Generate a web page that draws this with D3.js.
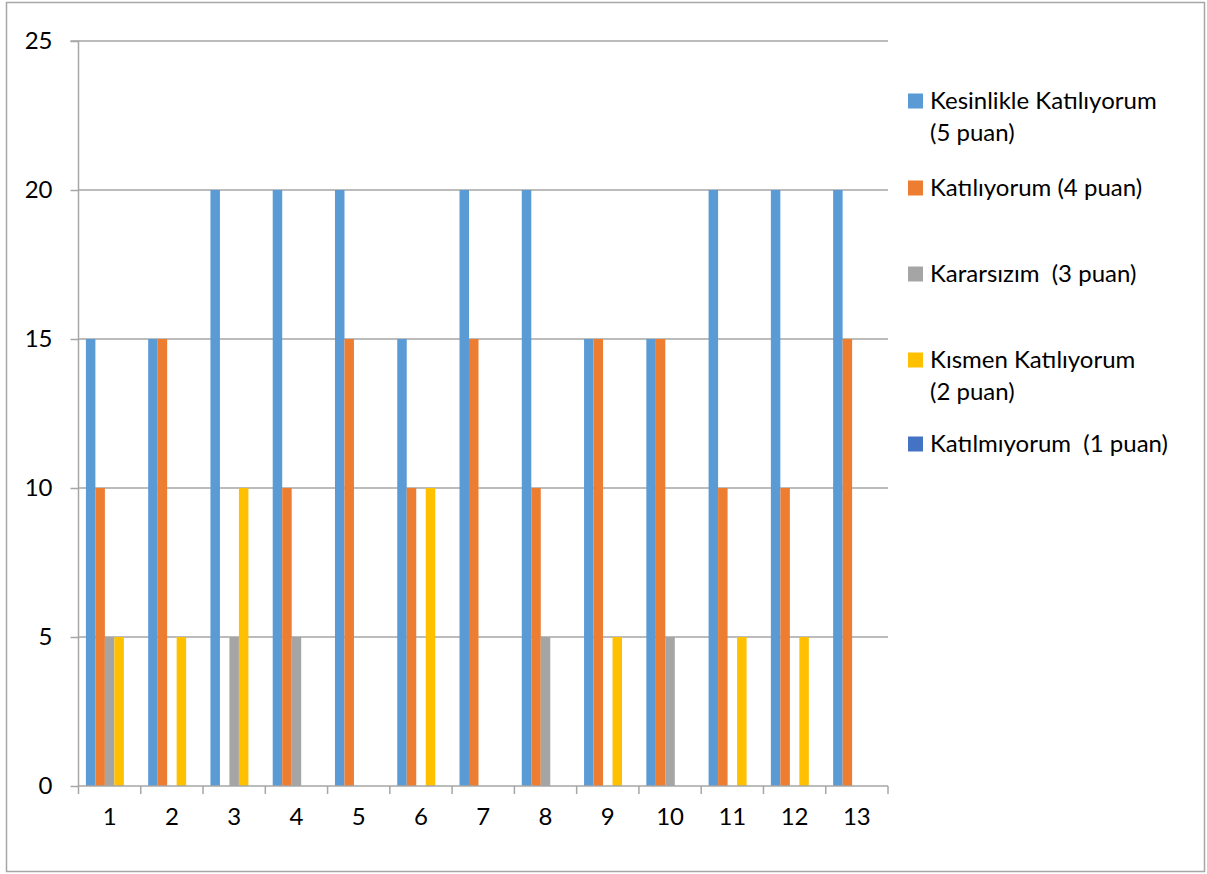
<!DOCTYPE html>
<html lang="tr">
<head>
  <meta charset="UTF-8" />
  <title>Grafik</title>
  <script src="https://d3js.org/d3.v7.min.js"></script>
  <style>
    body { margin: 0; background: white; }
    svg { display: block; font-family: Lato, "Noto Sans", sans-serif; }
    .tick text { font-size: 24px; fill: #000; }
    .legend text { white-space: pre; }
  </style>
</head>
<body>
  <svg width="1207" height="874"></svg>
  <script>
    const categories = ["1", "2", "3", "4", "5", "6", "7", "8", "9", "10", "11", "12", "13"];
    const seriesNames = [
      ["Kesinlikle Katılıyorum", "(5 puan)"],
      ["Katılıyorum (4 puan)"],
      ["Kararsızım  (3 puan)"],
      ["Kısmen Katılıyorum", "(2 puan)"],
      ["Katılmıyorum  (1 puan)"]
    ];
    const colors = ["#5B9BD5", "#ED7D31", "#A5A5A5", "#FFC000", "#4472C4"];
    const kesinlikle = [15, 15, 20, 20, 20, 15, 20, 20, 15, 15, 20, 20, 20];
    const katiliyorum = [10, 15, 0, 10, 15, 10, 15, 10, 15, 15, 10, 10, 15];
    const kararsizim = [5, 0, 5, 5, 0, 0, 0, 5, 0, 5, 0, 0, 0];
    const kismen = [5, 5, 10, 0, 0, 10, 0, 0, 5, 0, 5, 5, 0];
    const katilmiyorum = [0, 0, 0, 0, 0, 0, 0, 0, 0, 0, 0, 0, 0];
    const yTicks = [0, 5, 10, 15, 20, 25];

    const series = [kesinlikle, katiliyorum, kararsizim, kismen, katilmiyorum];

    const svg = d3.select("svg");

    // outer chart frame
    svg.append("rect")
      .attr("x", 6.5).attr("y", 2.5)
      .attr("width", 1198).attr("height", 869)
      .attr("fill", "white").attr("stroke", "#a6a6a6").attr("stroke-width", 1.5);

    const plotLeft = 78.5, plotRight = 888, plotTop = 41, plotBottom = 786;

    const x = d3.scaleBand().domain(categories).range([plotLeft, plotRight]).padding(0);
    const x1 = d3.scaleBand().domain(d3.range(series.length))
      .range([0, x.bandwidth()]).paddingOuter(0.78).paddingInner(0);
    const y = d3.scaleLinear().domain([0, 25]).range([plotBottom, plotTop]);

    // gridlines
    svg.append("g")
      .selectAll("line")
      .data(yTicks.filter(d => d > 0))
      .join("line")
      .attr("x1", plotLeft).attr("x2", plotRight)
      .attr("y1", d => y(d)).attr("y2", d => y(d))
      .attr("stroke", "#a6a6a6").attr("stroke-width", 1.5);

    // bars
    series.forEach((vals, si) => {
      svg.append("g")
        .attr("fill", colors[si])
        .selectAll("rect")
        .data(vals)
        .join("rect")
        .attr("x", (d, i) => x(categories[i]) + x1(si))
        .attr("width", x1.bandwidth())
        .attr("y", d => y(d))
        .attr("height", d => y(0) - y(d));
    });

    // y axis
    const yAxis = svg.append("g")
      .attr("transform", `translate(${plotLeft},0)`)
      .call(d3.axisLeft(y).tickValues(yTicks).tickSize(8).tickPadding(18));
    yAxis.select(".domain").attr("stroke", "#a6a6a6").attr("stroke-width", 1.5)
      .attr("d", `M-8,${plotTop}H0V${plotBottom}`);
    yAxis.selectAll(".tick line").attr("stroke", "#a6a6a6").attr("stroke-width", 1.5);
    yAxis.selectAll(".tick text").attr("font-family", "Lato, sans-serif");

    // x axis
    const xAxis = svg.append("g")
      .attr("transform", `translate(0,${plotBottom})`)
      .call(d3.axisBottom(x).tickSize(0).tickPadding(22));
    xAxis.select(".domain").attr("stroke", "#a6a6a6").attr("stroke-width", 1.5)
      .attr("d", `M${plotLeft},0H${plotRight}`);
    xAxis.selectAll(".tick text").attr("font-family", "Lato, sans-serif");
    xAxis.append("g")
      .selectAll("line")
      .data(categories.map(c => x(c)).concat([plotRight]))
      .join("line")
      .attr("x1", d => d).attr("x2", d => d)
      .attr("y1", 0).attr("y2", 8)
      .attr("stroke", "#a6a6a6").attr("stroke-width", 1.5);

    // legend
    const legendY = [101, 188, 274, 360, 444];
    const legend = svg.append("g").attr("class", "legend");
    seriesNames.forEach((lines, i) => {
      const g = legend.append("g").attr("transform", `translate(908,${legendY[i]})`);
      g.append("rect").attr("x", 0).attr("y", -7.5).attr("width", 15).attr("height", 15)
        .attr("fill", colors[i]);
      lines.forEach((t, j) => {
        g.append("text")
          .attr("x", 22).attr("y", j * 32)
          .attr("dy", "0.35em")
          .attr("font-size", 24)
          .attr("fill", "#000")
          .text(t);
      });
    });
  </script>
</body>
</html>
